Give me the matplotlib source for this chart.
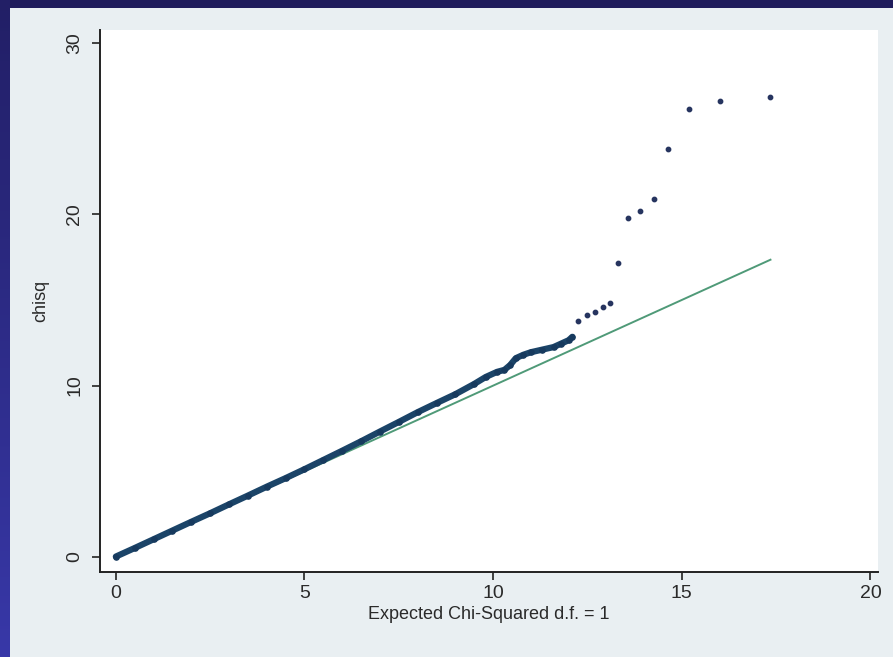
"""
QQ plot of observed vs expected chi-squared (1 d.f.), Stata-like slide frame.
"""

import numpy as np
import matplotlib
matplotlib.use("Agg")
import matplotlib.pyplot as plt

plt.rcParams["font.family"] = ["Liberation Sans Narrow", "Liberation Sans", "DejaVu Sans"]

# dense part of the observed curve (expected, observed)
EXP_DENSE = [0, 0.5, 1, 1.5, 2, 2.5, 3, 3.5, 4, 4.5, 5, 5.5, 6, 6.5, 7, 7.5,
             8, 8.5, 9, 9.5, 9.8, 10.1, 10.3, 10.45, 10.6, 10.8, 11.0, 11.3,
             11.6, 11.8, 12.0, 12.1]
OBS_DENSE = [0.02, 0.52, 1.03, 1.54, 2.05, 2.55, 3.07, 3.58, 4.1, 4.6, 5.12,
             5.66, 6.2, 6.75, 7.32, 7.88, 8.45, 8.98, 9.5, 10.1, 10.5, 10.8,
             10.92, 11.2, 11.6, 11.8, 11.95, 12.1, 12.25, 12.45, 12.65, 12.85]

# sparse tail points
EXP_TAIL = [12.25, 12.5, 12.7, 12.9, 13.1, 13.3, 13.57, 13.9, 14.26, 14.64,
            15.18, 16.0, 17.35]
OBS_TAIL = [13.8, 14.1, 14.3, 14.6, 14.85, 17.15, 19.8, 20.2, 20.9, 23.8,
            26.15, 26.6, 26.85]

# null reference line y = x
NULL_X = [0, 17.35]
NULL_Y = [0, 17.35]

X_TICKS = [0, 5, 10, 15, 20]
Y_TICKS = [0, 10, 20, 30]

W, H = 893, 657
fig = plt.figure(figsize=(W / 100, H / 100), dpi=100, facecolor="#e9eff2")

# slide frame: dark top strip and gradient left strip
top = fig.add_axes([0, 1 - 8 / H, 1, 8 / H])
top.set_axis_off()
top.add_patch(plt.Rectangle((0, 0), 1, 1, color="#1f1c5c", transform=top.transAxes))

left = fig.add_axes([0, 0, 10 / W, 1])
grad = np.linspace(0, 1, 256).reshape(-1, 1)
cmap = matplotlib.colors.LinearSegmentedColormap.from_list("frame", ["#221f66", "#3838a8"])
left.imshow(grad, aspect="auto", cmap=cmap, origin="upper")
left.set_axis_off()

ax = fig.add_axes([100 / W, 1 - 572 / H, 778 / W, 542 / H])
ax.set_facecolor("white")

ax.plot(NULL_X, NULL_Y, color="#4f9a78", linewidth=1.4, zorder=2)
ax.plot(EXP_DENSE, OBS_DENSE, color="#1b4468", linewidth=4.5, solid_capstyle="round",
        zorder=3)
ax.scatter(EXP_DENSE, OBS_DENSE, s=14, color="#173a5e", zorder=4)
ax.scatter(EXP_TAIL, OBS_TAIL, s=10, color="#26345f", zorder=4)

ax.set_xlim(-0.42, 20.2)
ax.set_ylim(-0.88, 30.76)
ax.set_xticks(X_TICKS)
ax.set_yticks(Y_TICKS)
ax.tick_params(axis="both", direction="out", length=6, width=1.2, colors="#222222",
               labelsize=14, labelcolor="#2a2a2a")
ax.tick_params(axis="y", pad=6)
for lab in ax.get_yticklabels():
    lab.set_rotation(90)
    lab.set_va("center")

for side in ["top", "right"]:
    ax.spines[side].set_visible(False)
for side in ["left", "bottom"]:
    ax.spines[side].set_linewidth(1.4)
    ax.spines[side].set_color("#222222")

ax.set_xlabel("Expected Chi-Squared d.f. = 1", fontsize=13, color="#2a2a2a", labelpad=3)
ax.set_ylabel("chisq", fontsize=13, color="#2a2a2a", labelpad=12)

plt.savefig("out.png", dpi=100, facecolor=fig.get_facecolor())
plt.close()
